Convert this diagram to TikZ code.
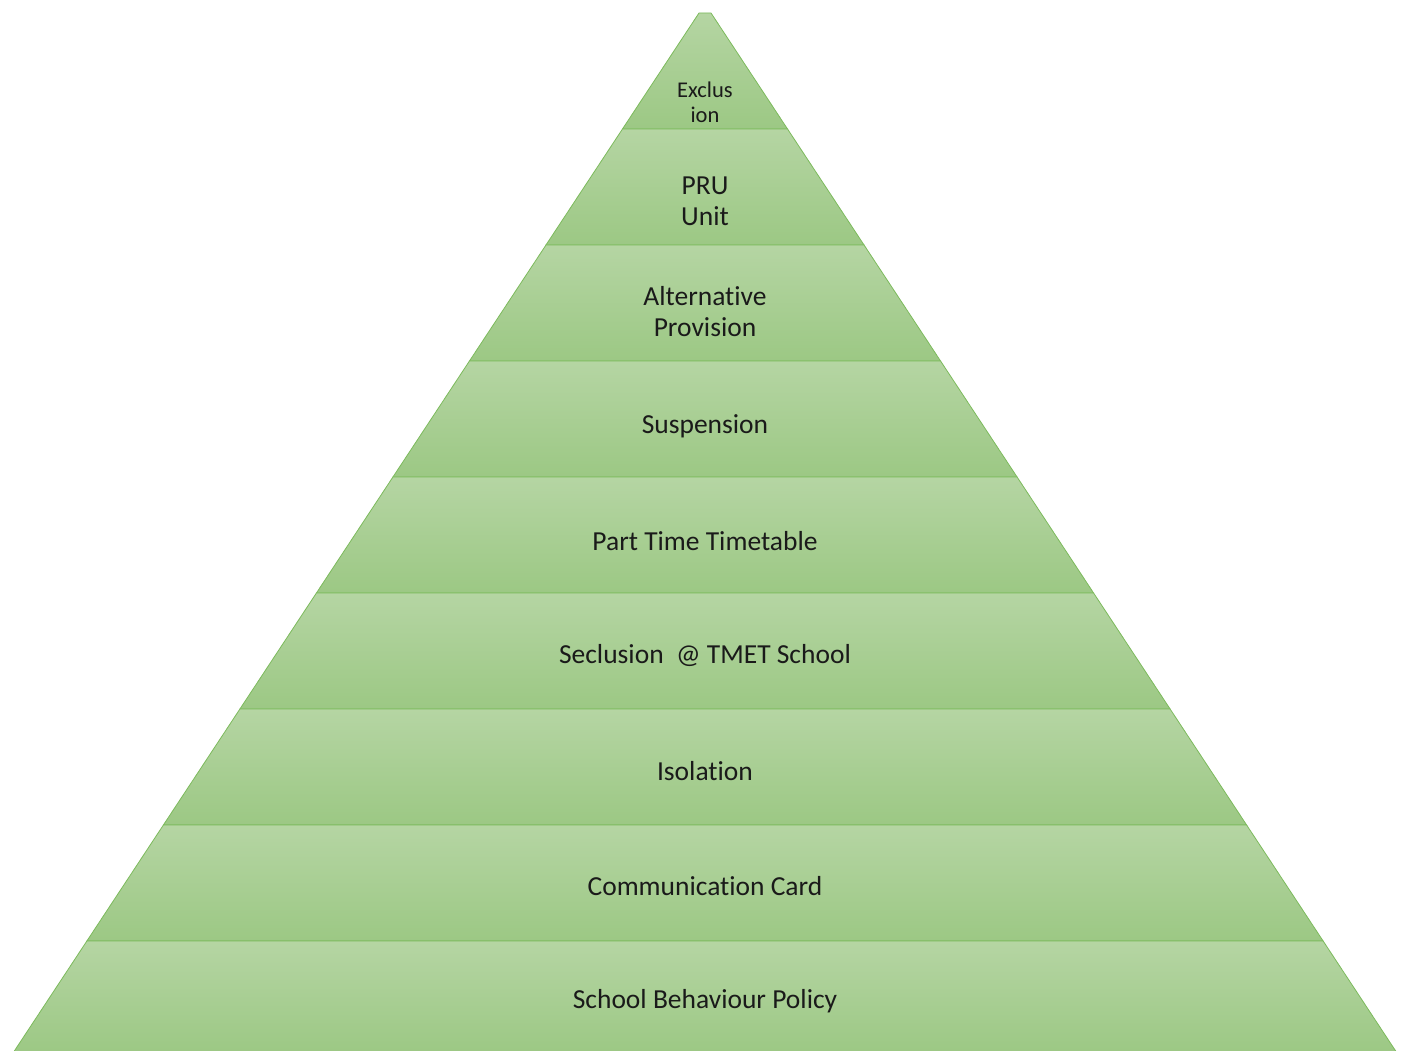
\documentclass[tikz,border=0pt]{standalone}
\usepackage{fontspec}
\setmainfont[Ligatures={NoCommon}]{Carlito}
\definecolor{lt}{HTML}{B5D5A3}
\definecolor{dk}{HTML}{9CC884}
\definecolor{bd}{HTML}{7CBA5C}
\definecolor{tx}{HTML}{1A1A1A}
\begin{document}
\begin{tikzpicture}[x=1pt,y=1pt,
  layer/.style={top color=lt,bottom color=dk,draw=bd,line width=0.8pt},
  lbl/.style={text=tx,font=\fontsize{27.5}{31}\selectfont,align=center}]
\useasboundingbox (0,0) rectangle (1410,1050);
\begin{scope}
\clip (0,0) rectangle (1410,1050);
\foreach \i in {0,...,8} {
  \pgfmathsetmacro\ya{13+116*\i}
  \pgfmathsetmacro\yb{min(\ya+116,1053)}
  \pgfmathsetmacro\ha{6+(\ya-13)*0.6596}
  \pgfmathsetmacro\hb{6+(\yb-13)*0.6596}
  \path[layer] (705-\ha,1050-\ya) -- (705+\ha,1050-\ya) -- (705+\hb,1050-\yb) -- (705-\hb,1050-\yb) -- cycle;
}
\end{scope}
\node[lbl,font=\fontsize{22.5}{25}\selectfont] (l0) at (705,1050-102) {Exclus\\ion};
\node[lbl] (l1) at (705,1050-201) {PRU\\Unit};
\node[lbl] (l2) at (705,1050-312) {Alternative\\Provision};
\node[lbl] (l3) at (705,1050-426) {Suspension};
\node[lbl] (l4) at (705,1050-541) {Part Time Timetable};
\node[lbl] (l5) at (705,1050-656) {Seclusion\ \ @ TMET School};
\node[lbl] (l6) at (705,1050-771) {Isolation};
\node[lbl] (l7) at (705,1050-886) {Communication Card};
\node[lbl] (l8) at (705,1050-1001) {School Behaviour Policy};
\end{tikzpicture}
\end{document}
